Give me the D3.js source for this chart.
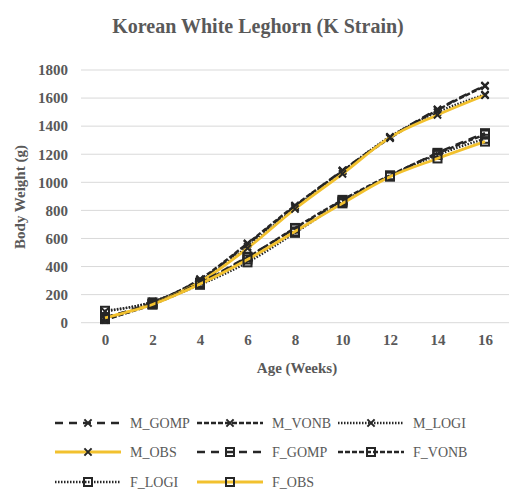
<!DOCTYPE html>
<html>
<head>
<meta charset="utf-8">
<script src="https://cdn.jsdelivr.net/npm/d3@7"></script>
<style>
  body { margin: 0; background: #fff; }
  text { font-family: "Liberation Serif", "Times New Roman", serif; fill: #595959; }
</style>
</head>
<body>
<div id="chart"></div>
<script>
// weeks on the x axis
var weeks = ["0", "2", "4", "6", "8", "10", "12", "14", "16"];
var yTicks = [0, 200, 400, 600, 800, 1000, 1200, 1400, 1600, 1800];

// body weight (g)
var M_GOMP = [35, 145, 305, 560, 830, 1085, 1320, 1520, 1690];
var M_VONB = [20, 140, 310, 565, 835, 1080, 1315, 1515, 1685];
var M_LOGI = [80, 150, 300, 540, 820, 1080, 1325, 1500, 1625];
var M_OBS  = [35, 135, 290, 530, 810, 1060, 1320, 1480, 1620];
var F_GOMP = [40, 135, 285, 470, 670, 870, 1045, 1210, 1350];
var F_VONB = [25, 130, 280, 465, 675, 875, 1050, 1205, 1340];
var F_LOGI = [85, 145, 270, 430, 640, 860, 1045, 1195, 1310];
var F_OBS  = [35, 130, 275, 450, 650, 850, 1040, 1170, 1290];

var seriesNames = ["M_GOMP", "M_VONB", "M_LOGI", "M_OBS", "F_GOMP", "F_VONB", "F_LOGI", "F_OBS"];
var seriesValues = [M_GOMP, M_VONB, M_LOGI, M_OBS, F_GOMP, F_VONB, F_LOGI, F_OBS];

var dark = "#262626", gold = "#F2C12E";
function styleFor(name){
  var s = {color: dark, width: 2.4, dash: null, marker: name[0] == "M" ? "x" : "sq"};
  if (name.indexOf("GOMP") > 0) s.dash = "8,6";
  if (name.indexOf("VONB") > 0) s.dash = "5,2";
  if (name.indexOf("LOGI") > 0) s.dash = "1.5,1.5";
  if (name.indexOf("OBS") > 0) { s.color = gold; s.width = 2.8; }
  return s;
}

var width = 509, height = 491;
var svg = d3.select("#chart").append("svg")
  .attr("width", width).attr("height", height);

var x = d3.scalePoint().domain(weeks).range([81.25, 508.75]).padding(0.5);
var y = d3.scaleLinear().domain([0, 1800]).range([322.7, 70]);

// title
svg.append("text")
  .attr("x", 258).attr("y", 33)
  .attr("text-anchor", "middle")
  .style("font-size", "20px").style("font-weight", "bold")
  .text("Korean White Leghorn (K Strain)");

// gridlines
svg.append("g").selectAll("line")
  .data(yTicks).enter().append("line")
  .attr("x1", 81).attr("x2", 509)
  .attr("y1", function(d){ return y(d); })
  .attr("y2", function(d){ return y(d); })
  .attr("stroke", "#d9d9d9").attr("stroke-width", 1);

// axes
var yAxis = svg.append("g")
  .attr("transform", "translate(81,0)")
  .call(d3.axisLeft(y).tickValues(yTicks).tickFormat(d3.format("d")).tickSize(0).tickPadding(13));
var xAxis = svg.append("g")
  .attr("transform", "translate(0," + y(0) + ")")
  .call(d3.axisBottom(x).tickSize(0).tickPadding(12));
[xAxis, yAxis].forEach(function(a){
  a.select(".domain").remove();
  a.selectAll("text")
    .style("font-family", "'Liberation Serif', serif")
    .style("font-size", "15px").style("font-weight", "bold")
    .attr("fill", "#636363");
});

svg.append("text")
  .attr("x", 297).attr("y", 373)
  .attr("text-anchor", "middle")
  .style("font-size", "15px").style("font-weight", "bold")
  .text("Age (Weeks)");

svg.append("text")
  .attr("transform", "translate(25,197) rotate(-90)")
  .attr("text-anchor", "middle")
  .style("font-size", "15px").style("font-weight", "bold")
  .text("Body Weight (g)");

function drawMarker(g, type, cx, cy){
  if (type == "x") {
    var r = 3.6;
    g.append("path")
      .attr("d", "M" + (cx - r) + "," + (cy - r) + "L" + (cx + r) + "," + (cy + r) +
                 "M" + (cx - r) + "," + (cy + r) + "L" + (cx + r) + "," + (cy - r))
      .attr("stroke", dark).attr("stroke-width", 2).attr("fill", "none");
  } else {
    g.append("rect")
      .attr("x", cx - 4).attr("y", cy - 4)
      .attr("width", 8).attr("height", 8)
      .attr("stroke", dark).attr("stroke-width", 2).attr("fill", "none");
  }
}

var line = d3.line()
  .x(function(d, i){ return x(weeks[i]); })
  .y(function(d){ return y(d); })
  .curve(d3.curveMonotoneX);

// series
seriesNames.forEach(function(name, k){
  var s = styleFor(name);
  var g = svg.append("g").attr("class", "series");
  g.append("path")
    .datum(seriesValues[k])
    .attr("d", line)
    .attr("fill", "none")
    .attr("stroke", s.color)
    .attr("stroke-width", s.width)
    .attr("stroke-dasharray", s.dash);
  seriesValues[k].forEach(function(v, i){
    drawMarker(g, s.marker, x(weeks[i]), y(v));
  });
});

// legend
var legX = [[55, 130], [197, 272], [338, 413]];
var legY = [423, 452, 482];
seriesNames.forEach(function(name, k){
  var s = styleFor(name);
  var col = k % 3, row = Math.floor(k / 3);
  var x0 = legX[col][0], x1 = x0 + 66, yy = legY[row];
  var g = svg.append("g").attr("class", "legend-item");
  g.append("line")
    .attr("x1", x0).attr("x2", x1).attr("y1", yy).attr("y2", yy)
    .attr("stroke", s.color).attr("stroke-width", s.width)
    .attr("stroke-dasharray", s.dash);
  drawMarker(g, s.marker, (x0 + x1) / 2, yy);
  g.append("text")
    .attr("x", legX[col][1]).attr("y", yy + 5)
    .style("font-size", "14px")
    .text(name);
});
</script>
</body>
</html>
